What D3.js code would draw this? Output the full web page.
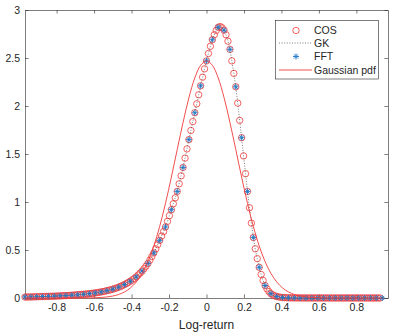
<!DOCTYPE html>
<html><head><meta charset="utf-8">
<script src="https://cdn.jsdelivr.net/npm/d3@7/dist/d3.min.js"></script>
<style>body{margin:0;background:#fff}svg{display:block}text{font-family:"Liberation Sans",Arial,sans-serif;fill:#262626}</style>
</head><body>
<script>
// COS density on grid x = j/96, j = -93..93
const cosStart = -93, cosStep = 1/96;
const cosValues = [
0.010,0.0103,0.0107,0.011,0.0117,0.0123,0.013,0.0137,0.0143,0.015,0.0157,0.0163,0.017,0.0177,0.0183,0.019,0.020,0.021,0.022,0.023,0.024,0.025,0.026,0.0275,0.029,0.0306,0.0323,0.034,0.0356,0.0373,0.039,0.041,0.043,0.045,0.0475,0.050,0.053,0.0562,0.0595,0.063,0.067,0.0713,0.076,0.081,0.0865,0.092,0.0987,0.1055,0.113,0.121,0.1305,0.140,0.151,0.1625,0.175,0.189,0.204,0.220,0.239,0.259,0.280,0.305,0.332,0.360,0.395,0.432,0.470,0.512,0.556,0.600,0.645,0.692,0.740,0.798,0.858,0.920,0.982,1.044,1.110,1.190,1.273,1.360,1.457,1.553,1.650,1.745,1.838,1.930,2.023,2.117,2.210,2.300,2.387,
2.470,
2.547,2.622,2.690,2.742,2.787,2.820,2.828,2.815,2.790,2.742,2.675,2.590,2.470,2.340,2.200,2.030,1.850,1.670,1.480,1.295,1.110,0.940,0.780,0.630,0.513,0.410,0.320,0.245,0.183,0.130,0.095,0.066,0.045,0.032,0.022,0.015,0.011,0.0075,0.005,0.004,0.003,0.002,0.0015,0.0013,0.001,0.0008,0.0006,0.0005,0.0004,0.0004,0.0003,0.0003,0.0003,0.0002,0.0002,0.0002,0.0002,0.0002,0.0001,0.0001,0.0001,0.0001,0.0001,0.0001,0.0001,0.0001,0.0001,0.0001,0.0001,0.0001,0.0001,0.0001,0.0001,0.0001,0.0001,0.0001,0.0001,0.0001,0.0001,0.0001,0.0001,0.0001,0.0001,0.0001,0.0001,0.0001,0.0001,0.0001,0.0001
];
// GK density (same grid as COS, visually identical)
const gkValues = cosValues.slice();
// FFT density on grid x = k/32, k = -31..31
const fftStart = -31, fftStep = 1/32;
const fftValues = [
0.010,0.011,0.013,0.015,0.017,0.019,0.022,0.025,0.029,0.034,0.039,0.045,0.053,0.063,0.076,0.092,0.113,0.140,0.175,0.220,0.280,0.360,0.470,0.600,0.740,0.920,1.110,1.360,1.650,1.930,2.210,
2.470,
2.690,2.820,2.790,2.590,2.200,1.670,1.110,0.630,0.320,0.130,0.045,0.015,0.005,0.002,0.001,0.0005,0.0003,0.0002,0.0002,0.0001,0.0001,0.0001,0.0001,0.0001,0.0001,0.0001,0.0001,0.0001,0.0001,0.0001
];
// Gaussian pdf on grid x = k/32, k = -31..31
const gaussValues = [
0,0,0,0,0,0,0,0,0.0001,0.0003,0.0006,0.0014,0.0029,0.0057,0.0110,0.0205,0.0366,0.0630,0.1045,0.1669,0.2565,0.380,0.542,0.745,0.987,1.259,1.547,1.830,2.087,2.292,2.424,
2.470,
2.424,2.292,2.087,1.830,1.547,1.259,0.987,0.745,0.542,0.380,0.2565,0.1669,0.1045,0.0630,0.0366,0.0205,0.0110,0.0057,0.0029,0.0014,0.0006,0.0003,0.0001,0,0,0,0,0,0,0
];
const xTicks = [-0.8,-0.6,-0.4,-0.2,0,0.2,0.4,0.6,0.8];
const yTicks = [0,0.5,1,1.5,2,2.5,3];
const legendLabels = ["COS","GK","FFT","Gaussian pdf"];
const xLabel = "Log-return";

const W=394,H=333, L=25, R=388, T=10, B=298;
const svg=d3.select("body").append("svg").attr("width",W).attr("height",H);
const x=d3.scaleLinear().domain([-0.96875,0.96875]).range([L,R]);
const y=d3.scaleLinear().domain([0,3]).range([B,T]);
const red="#f03a3a", blue="#1f77c4", axc="#262626";

const cosData=cosValues.map((v,i)=>({x:(cosStart+i)*cosStep,y:v}));
const gkData=gkValues.map((v,i)=>({x:(cosStart+i)*cosStep,y:v}));
const fftData=fftValues.map((v,i)=>({x:(fftStart+i)*fftStep,y:v}));
const gaussData=gaussValues.map((v,i)=>({x:(fftStart+i)*fftStep,y:v}));

// axes box
const gx=svg.append("g");
const fmt=d=>d===0?"0":String(d).replace(/^(-?)0\./,"$1.").replace(/^(-?)\./,"$10.");
// x bottom
svg.append("g").attr("transform",`translate(0,${B})`)
  .call(d3.axisBottom(x).tickValues(xTicks).tickSizeInner(-3.6).tickSizeOuter(0).tickPadding(6).tickFormat(d=>String(d)))
  .call(g=>{g.select(".domain").attr("stroke",axc).attr("stroke-width",0.6);g.selectAll(".tick line").attr("stroke",axc).attr("stroke-width",0.6);g.selectAll("text").attr("font-size",10.5).attr("fill",axc).style("fill",axc);});
// x top
svg.append("g").attr("transform",`translate(0,${T})`)
  .call(d3.axisTop(x).tickValues(xTicks).tickSizeInner(-3.6).tickSizeOuter(0).tickFormat(""))
  .call(g=>{g.select(".domain").attr("stroke",axc).attr("stroke-width",0.6);g.selectAll(".tick line").attr("stroke",axc).attr("stroke-width",0.6);});
// y left
svg.append("g").attr("transform",`translate(${L},0)`)
  .call(d3.axisLeft(y).tickValues(yTicks).tickSizeInner(-3.6).tickSizeOuter(0).tickPadding(5).tickFormat(d=>String(d)))
  .call(g=>{g.select(".domain").attr("stroke",axc).attr("stroke-width",0.6);g.selectAll(".tick line").attr("stroke",axc).attr("stroke-width",0.6);g.selectAll("text").attr("font-size",10.5).style("fill",axc);});
// y right
svg.append("g").attr("transform",`translate(${R},0)`)
  .call(d3.axisRight(y).tickValues(yTicks).tickSizeInner(-3.6).tickSizeOuter(0).tickFormat(""))
  .call(g=>{g.select(".domain").attr("stroke",axc).attr("stroke-width",0.6);g.selectAll(".tick line").attr("stroke",axc).attr("stroke-width",0.6);});

svg.append("text").attr("x",(L+R)/2).attr("y",329).attr("text-anchor","middle").attr("font-size",12).text(xLabel);

const line=d3.line().x(d=>x(d.x)).y(d=>y(d.y));
// COS circles
svg.append("g").selectAll("circle").data(cosData).join("circle")
  .attr("cx",d=>x(d.x)).attr("cy",d=>y(d.y)).attr("r",3.2)
  .attr("fill","none").attr("stroke",red).attr("stroke-width",0.8);
// GK dotted
svg.append("path").datum(gkData).attr("d",line).attr("fill","none")
  .attr("stroke","#444").attr("stroke-width",0.7).attr("stroke-dasharray","1,1.6");
// FFT stars
const star=s=>`M${-s},0L${s},0M0,${-s}L0,${s}M${-s*0.7},${-s*0.7}L${s*0.7},${s*0.7}M${-s*0.7},${s*0.7}L${s*0.7},${-s*0.7}`;
svg.append("g").selectAll("path").data(fftData).join("path")
  .attr("transform",d=>`translate(${x(d.x)},${y(d.y)})`).attr("d",star(3))
  .attr("fill","none").attr("stroke",blue).attr("stroke-width",0.9);
// Gaussian
svg.append("path").datum(gaussData).attr("d",line.curve(d3.curveCatmullRom)).attr("fill","none")
  .attr("stroke",red).attr("stroke-width",0.9);

// legend
const lg=svg.append("g");
lg.append("rect").attr("x",275.5).attr("y",20.5).attr("width",103).attr("height",58.5)
  .attr("fill","#fff").attr("stroke",axc).attr("stroke-width",0.6);
const ly=[30.5,43,56.5,70];
legendLabels.forEach((t,i)=>lg.append("text").attr("x",314).attr("y",ly[i]).attr("dy","0.35em").attr("font-size",10.5).text(t));
lg.append("circle").attr("cx",296).attr("cy",ly[0]).attr("r",3.2).attr("fill","none").attr("stroke",red).attr("stroke-width",0.8);
lg.append("line").attr("x1",279).attr("x2",312).attr("y1",ly[1]).attr("y2",ly[1]).attr("stroke","#444").attr("stroke-width",0.7).attr("stroke-dasharray","1,1.6");
lg.append("path").attr("transform",`translate(296,${ly[2]})`).attr("d",star(3)).attr("fill","none").attr("stroke",blue).attr("stroke-width",0.9);
lg.append("line").attr("x1",279).attr("x2",312).attr("y1",ly[3]).attr("y2",ly[3]).attr("stroke",red).attr("stroke-width",0.9);
</script>
</body></html>
